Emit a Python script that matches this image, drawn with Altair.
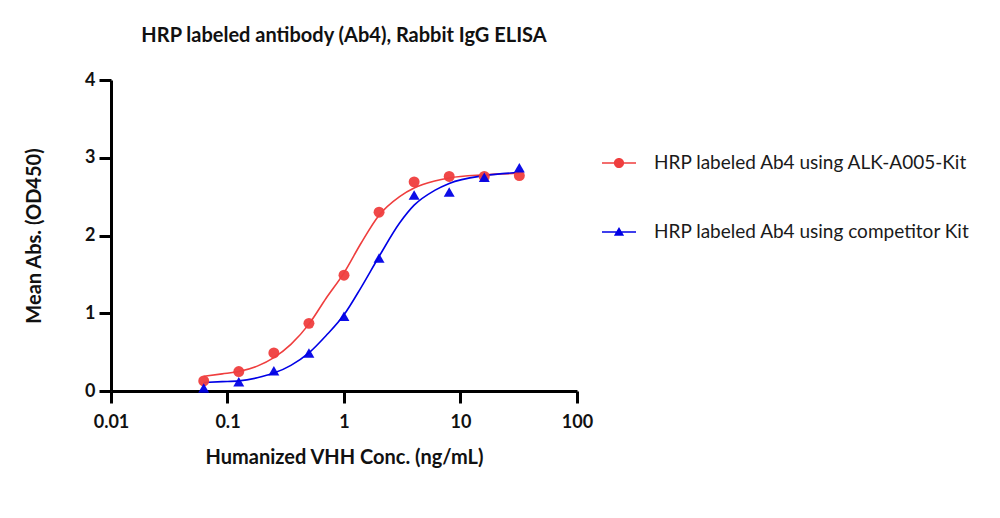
import altair as alt
import pandas as pd

series_names = ["HRP labeled Ab4 using ALK-A005-Kit", "HRP labeled Ab4 using competitor Kit"]
colors = ["#ef3e3e", "#0000e6"]

conc = [0.0625, 0.125, 0.25, 0.5, 1, 2, 4, 8, 16, 32]
red_od = [0.13, 0.25, 0.49, 0.87, 1.49, 2.30, 2.69, 2.76, 2.76, 2.77]
blue_od = [0.04, 0.12, 0.26, 0.49, 0.96, 1.71, 2.52, 2.56, 2.75, 2.87]

curve_conc = [0.0625, 0.09, 0.125, 0.18, 0.25, 0.35, 0.5, 0.7, 1, 1.4, 2, 3, 4, 6, 8, 16, 32]
red_curve = [0.19, 0.22, 0.25, 0.32, 0.43, 0.60, 0.86, 1.19, 1.52, 1.90, 2.26, 2.50, 2.61, 2.70, 2.74, 2.78, 2.80]
blue_curve = [0.11, 0.12, 0.13, 0.17, 0.23, 0.33, 0.49, 0.71, 0.98, 1.33, 1.73, 2.16, 2.39, 2.58, 2.67, 2.77, 2.81]

x_ticks = [0.01, 0.1, 1, 10, 100]
y_ticks = [0, 1, 2, 3, 4]

pts = pd.DataFrame({
    "conc": conc + conc,
    "od": red_od + blue_od,
    "series": [series_names[0]] * len(conc) + [series_names[1]] * len(conc),
})
curve = pd.DataFrame({
    "conc": curve_conc + curve_conc,
    "od": red_curve + blue_curve,
    "series": [series_names[0]] * len(curve_conc) + [series_names[1]] * len(curve_conc),
})

FONT = "Lato"
color_scale = alt.Scale(domain=series_names, range=colors)

x_enc = alt.X("conc:Q", scale=alt.Scale(type="log", domain=[0.01, 100]),
              axis=alt.Axis(values=x_ticks, format="~g", title="Humanized VHH Conc. (ng/mL)",
                            titlePadding=16, labelPadding=10, labelFlush=False))
y_enc = alt.Y("od:Q", scale=alt.Scale(domain=[0, 4]),
              axis=alt.Axis(values=y_ticks, title="Mean Abs. (OD450)", titlePadding=40, labelPadding=4))

lines = alt.Chart(curve).mark_line(strokeWidth=1.6, interpolate="monotone").encode(
    x=x_enc, y=y_enc,
    color=alt.Color("series:N", scale=color_scale, legend=None),
    detail="series:N",
)

points = alt.Chart(pts).mark_point(filled=True, opacity=0.95, size=120).encode(
    x=x_enc, y=y_enc,
    color=alt.Color("series:N", scale=color_scale, legend=None),
    shape=alt.Shape("series:N", scale=alt.Scale(domain=series_names, range=["circle", "triangle-up"]), legend=None),
)

line_circle = ("M-1,-0.045H1V0.045H-1Z "
               "M-0.3,0A0.3,0.3 0 1,1 0.3,0A0.3,0.3 0 1,1 -0.3,0Z")
line_tri = ("M-1,-0.045H1V0.045H-1Z "
            "M0,-0.3L0.3,0.22L-0.3,0.22Z")

legend_cfg = alt.Legend(title=None, orient="none", legendX=490, legendY=65,
                        symbolSize=1156, symbolOpacity=1, labelOffset=17, rowPadding=41,
                        labelFont=FONT, labelFontSize=19, labelColor="#1a1a1a", padding=0,
                        labelLimit=400)

legend_layer = alt.Chart(pts).mark_point(filled=True, opacity=0).encode(
    x=x_enc, y=y_enc,
    fill=alt.Fill("series:N", scale=color_scale, legend=legend_cfg),
    shape=alt.Shape("series:N", scale=alt.Scale(domain=series_names, range=[line_circle, line_tri]),
                    legend=legend_cfg),
)

chart = alt.layer(lines, points, legend_layer).resolve_scale(
    shape="independent", fill="independent"
).properties(
    width=466, height=311,
    padding={"left": 24, "top": 26, "right": 20, "bottom": 20},
    title=alt.TitleParams("HRP labeled antibody (Ab4), Rabbit IgG ELISA", font=FONT, fontSize=20,
                          fontWeight="bold", anchor="middle", offset=25, color="#111111"),
).configure_view(stroke=None).configure_axis(
    grid=False, domainColor="black", domainWidth=3, tickColor="black", tickWidth=3, tickSize=12,
    labelFont=FONT, labelFontSize=18, labelFontWeight="bold", labelColor="#111111",
    titleFont=FONT, titleFontSize=20, titleFontWeight="bold", titleColor="#111111",
)

chart.save("out.html", embed_options={"renderer": "svg", "actions": False})
